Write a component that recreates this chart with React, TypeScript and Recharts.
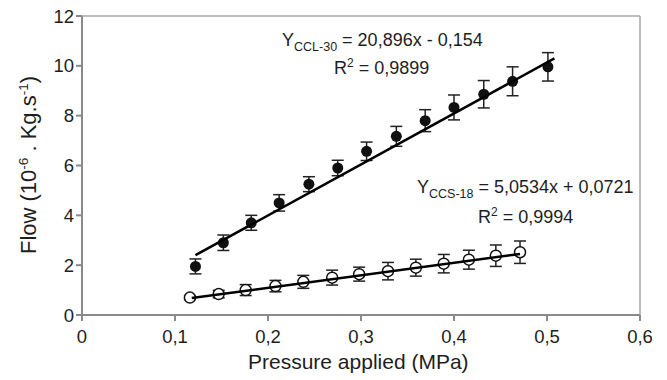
import { ErrorBar, ReferenceLine, Scatter, ScatterChart, XAxis, YAxis } from "recharts";

const ccl30X = [0.122, 0.152, 0.182, 0.212, 0.244, 0.275, 0.306, 0.338, 0.369, 0.4, 0.432, 0.463, 0.501];
const ccl30Y = [1.95, 2.9, 3.7, 4.5, 5.25, 5.9, 6.57, 7.17, 7.8, 8.33, 8.86, 9.38, 9.96];
const ccl30Err = [0.3, 0.31, 0.3, 0.33, 0.3, 0.31, 0.37, 0.4, 0.44, 0.5, 0.55, 0.58, 0.57];

const ccs18X = [0.116, 0.147, 0.176, 0.208, 0.238, 0.269, 0.298, 0.329, 0.359, 0.389, 0.416, 0.445, 0.471];
const ccs18Y = [0.7, 0.84, 1.0, 1.16, 1.33, 1.5, 1.64, 1.76, 1.9, 2.06, 2.22, 2.38, 2.52];
const ccs18Err = [0.08, 0.15, 0.22, 0.23, 0.26, 0.3, 0.28, 0.35, 0.34, 0.37, 0.38, 0.43, 0.45];

// trend line end points
const cclFitX = [0.122, 0.508];
const cclFitY = [2.4, 10.3];
const ccsFitX = [0.118, 0.471];
const ccsFitY = [0.68, 2.45];

const xTicks = [0, 0.1, 0.2, 0.3, 0.4, 0.5, 0.6];
const yTicks = [0, 2, 4, 6, 8, 10, 12];

const zip = (xs: number[], ys: number[], errs?: number[]) =>
  xs.map((x, i) => ({ x, y: ys[i], err: errs ? errs[i] : 0 }));

const font = "'Liberation Sans', Arial, sans-serif";
const axisGrey = "#8a8a8a";
const ink = "#1e1e1e";

const OpenDot = (props: any) => (
  <circle cx={props.cx} cy={props.cy} r={5.5} fill="#fff" stroke="#111" strokeWidth={1.5} />
);
const FilledDot = (props: any) => <circle cx={props.cx} cy={props.cy} r={5.5} fill="#111" />;
const NoDot = () => <g />;

export default function App() {
  const tickStyle = { fontSize: 18.5, fill: ink, fontFamily: font };
  return (
    <div style={{ position: "fixed", left: 0, top: 0, width: 667, height: 380, background: "#fff", fontFamily: font }}>
      <ScatterChart width={667} height={380} margin={{ top: 16, right: 27, bottom: 20, left: 20 }}>
        <XAxis
          type="number"
          dataKey="x"
          domain={[0, 0.6]}
          ticks={xTicks}
          tickFormatter={(v: number) => String(v).replace(".", ",")}
          height={45}
          tickSize={6}
          tickMargin={9}
          tick={tickStyle}
          stroke={axisGrey}
          strokeWidth={2}
        />
        <YAxis
          type="number"
          dataKey="y"
          domain={[0, 12]}
          ticks={yTicks}
          width={62}
          tickSize={6}
          tick={tickStyle}
          stroke={axisGrey}
          strokeWidth={2}
        />
        <ReferenceLine y={12} stroke="#a8a8a8" strokeWidth={1.5} />
        <ReferenceLine x={0.6} stroke="#a8a8a8" strokeWidth={1.5} />
        <Scatter data={zip(ccs18X, ccs18Y, ccs18Err)} shape={OpenDot} isAnimationActive={false}>
          <ErrorBar dataKey="err" direction="y" width={6} stroke="#222" strokeWidth={1.5} />
        </Scatter>
        <Scatter data={zip(ccl30X, ccl30Y, ccl30Err)} shape={FilledDot} isAnimationActive={false}>
          <ErrorBar dataKey="err" direction="y" width={6} stroke="#222" strokeWidth={1.5} />
        </Scatter>
        <Scatter
          data={zip(cclFitX, cclFitY)}
          line={{ stroke: "#000", strokeWidth: 2.5 }}
          shape={NoDot}
          isAnimationActive={false}
        />
        <Scatter
          data={zip(ccsFitX, ccsFitY)}
          line={{ stroke: "#000", strokeWidth: 2.5 }}
          shape={NoDot}
          isAnimationActive={false}
        />
      </ScatterChart>

      <div style={{ position: "absolute", left: 282, top: 30, fontSize: 18, color: ink, whiteSpace: "nowrap" }}>
        Y<sub style={{ fontSize: 12.5 }}>CCL-30</sub> = 20,896x - 0,154
      </div>
      <div style={{ position: "absolute", left: 334, top: 56, fontSize: 18, color: ink, whiteSpace: "nowrap" }}>
        R<sup style={{ fontSize: 12 }}>2</sup> = 0,9899
      </div>
      <div style={{ position: "absolute", left: 417, top: 177, fontSize: 18, color: ink, whiteSpace: "nowrap" }}>
        Y<sub style={{ fontSize: 12.5 }}>CCS-18</sub> = 5,0534x + 0,0721
      </div>
      <div style={{ position: "absolute", left: 478, top: 205, fontSize: 18, color: ink, whiteSpace: "nowrap" }}>
        R<sup style={{ fontSize: 12 }}>2</sup> = 0,9994
      </div>

      <div
        style={{
          position: "absolute",
          left: 248,
          top: 350,
          fontSize: 21,
          color: ink,
          whiteSpace: "nowrap",
        }}
      >
        Pressure applied (MPa)
      </div>
      <div
        style={{
          position: "absolute",
          left: 29,
          top: 165,
          fontSize: 22,
          color: ink,
          whiteSpace: "nowrap",
          transform: "translate(-50%, -50%) rotate(-90deg)",
        }}
      >
        Flow (10<sup style={{ fontSize: 13.5 }}>-6</sup> . Kg.s<sup style={{ fontSize: 13.5 }}>-1</sup>)
      </div>
    </div>
  );
}
